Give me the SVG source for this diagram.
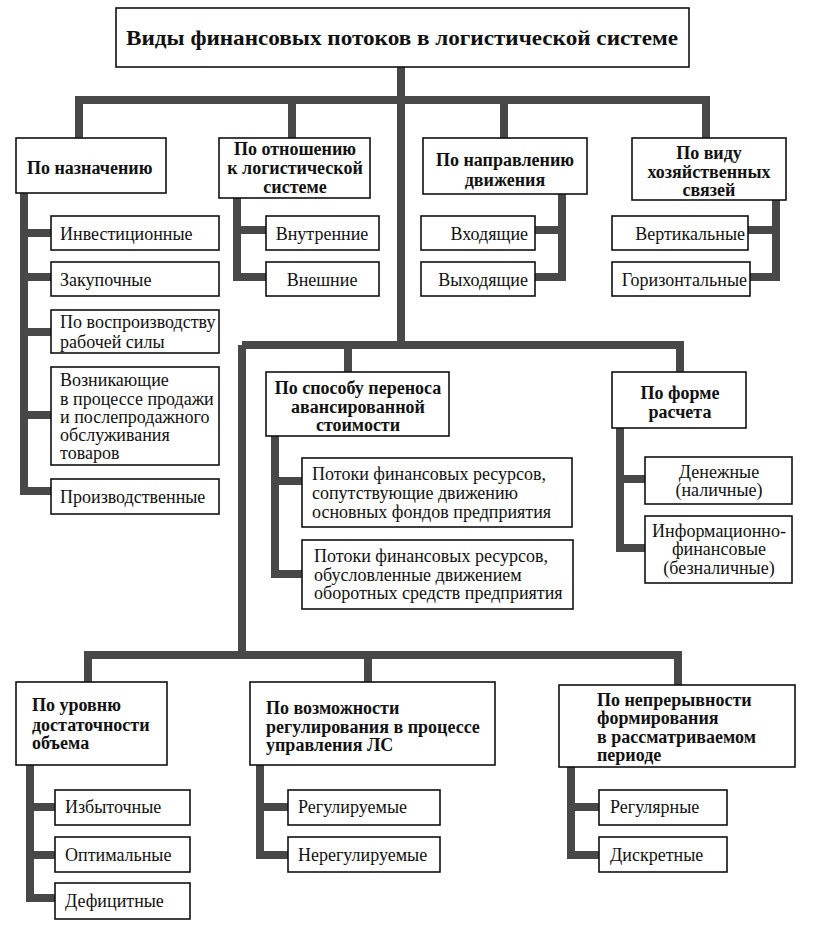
<svg xmlns="http://www.w3.org/2000/svg" width="813" height="928" viewBox="0 0 813 928">
<style>
.box{fill:#fff;stroke:#111;stroke-width:1.6}
.con{fill:none;stroke:#484848;stroke-width:8;stroke-linejoin:miter;stroke-linecap:butt}
text{font-family:'Liberation Serif','Times New Roman','DejaVu Serif',serif;font-size:18px;fill:#111}
.b{font-weight:bold}
.c{text-anchor:middle}
.e{text-anchor:end}
.t{font-size:22px;font-weight:bold}
</style>
<rect width="813" height="928" fill="#fff"/>
<g id="connectors">
<path class="con" d="M401,67 V345"/>
<path class="con" d="M79,138 V100 H706 V138 M292,100 V138 M504,100 V138"/>
<path class="con" d="M24,193 V491 H51 M24,233 H51 M24,277 H51 M24,332 H51 M24,415 H51"/>
<path class="con" d="M237,198 V277 H266 M237,230 H266"/>
<path class="con" d="M562,194 V277 H535 M562,230 H535"/>
<path class="con" d="M776,200 V277 H750 M776,230 H748"/>
<path class="con" d="M348,372 V345 H680 V372 M242,345 H348 M242,345 V655"/>
<path class="con" d="M88,682 V655 H678 V685 M368,655 V682"/>
<path class="con" d="M275,436 V574 H302 M275,481 H302"/>
<path class="con" d="M620,428 V548 H645 M620,479 H645"/>
<path class="con" d="M30,765 V898 H55 M30,807 H55 M30,855 H55"/>
<path class="con" d="M260,765 V855 H288 M260,807 H288"/>
<path class="con" d="M571,767 V855 H599 M571,807 H599"/>
</g>
<g id="title">
<rect class="box" x="116" y="8" width="573" height="59"/>
<text class="t c" x="402" y="45" textLength="552" lengthAdjust="spacingAndGlyphs">Виды финансовых потоков в логистической системе</text>
</g>
<g id="n1">
<rect class="box" x="16" y="138" width="150" height="55"/>
<text class="b" x="27" y="174">По назначению</text>
</g>
<g id="n2">
<rect class="box" x="219" y="138" width="151" height="60"/>
<text class="b c" x="295" y="155">По отношению</text>
<text class="b c" x="295" y="174">к логистической</text>
<text class="b c" x="295" y="193">системе</text>
</g>
<g id="n3">
<rect class="box" x="423" y="138" width="164" height="56"/>
<text class="b c" x="505" y="166">По направлению</text>
<text class="b c" x="505" y="186">движения</text>
</g>
<g id="n4">
<rect class="box" x="632" y="138" width="154" height="62"/>
<text class="b c" x="709" y="159">По виду</text>
<text class="b c" x="709" y="178">хозяйственных</text>
<text class="b c" x="709" y="196">связей</text>
</g>
<g id="n1a"><rect class="box" x="51" y="216" width="168" height="34"/><text x="60" y="240">Инвестиционные</text></g>
<g id="n1b"><rect class="box" x="51" y="262" width="168" height="34"/><text x="60" y="286">Закупочные</text></g>
<g id="n1c"><rect class="box" x="51" y="310" width="168" height="43"/><text x="60" y="328">По воспроизводству</text><text x="60" y="348">рабочей силы</text></g>
<g id="n1d"><rect class="box" x="51" y="367" width="168" height="98"/>
<text x="60" y="386">Возникающие</text>
<text x="60" y="405">в процессе продажи</text>
<text x="60" y="423">и послепродажного</text>
<text x="60" y="441">обслуживания</text>
<text x="60" y="459">товаров</text></g>
<g id="n1e"><rect class="box" x="51" y="479" width="168" height="35"/><text x="60" y="503">Производственные</text></g>
<g id="n2a"><rect class="box" x="266" y="216" width="113" height="34"/><text class="c" x="322" y="240">Внутренние</text></g>
<g id="n2b"><rect class="box" x="266" y="262" width="113" height="34"/><text class="c" x="322" y="286">Внешние</text></g>
<g id="n3a"><rect class="box" x="421" y="216" width="114" height="34"/><text class="e" x="528" y="240">Входящие</text></g>
<g id="n3b"><rect class="box" x="421" y="262" width="114" height="34"/><text class="e" x="528" y="286">Выходящие</text></g>
<g id="n4a"><rect class="box" x="612" y="216" width="136" height="34"/><text class="e" x="745" y="240">Вертикальные</text></g>
<g id="n4b"><rect class="box" x="612" y="262" width="138" height="34"/><text class="e" x="747" y="286">Горизонтальные</text></g>
<g id="n5">
<rect class="box" x="266" y="372" width="183" height="64"/>
<text class="b c" x="358" y="394">По способу переноса</text>
<text class="b c" x="358" y="413">авансированной</text>
<text class="b c" x="358" y="431">стоимости</text>
</g>
<g id="n5a"><rect class="box" x="302" y="458" width="270" height="69"/>
<text x="312" y="480">Потоки финансовых ресурсов,</text>
<text x="312" y="499">сопутствующие движению</text>
<text x="312" y="518">основных фондов предприятия</text></g>
<g id="n5b"><rect class="box" x="302" y="540" width="271" height="69"/>
<text x="314" y="562">Потоки финансовых ресурсов,</text>
<text x="314" y="581">обусловленные движением</text>
<text x="314" y="599">оборотных средств предприятия</text></g>
<g id="n6">
<rect class="box" x="612" y="372" width="134" height="56"/>
<text class="b c" x="680" y="399">По форме</text>
<text class="b c" x="680" y="418">расчета</text>
</g>
<g id="n6a"><rect class="box" x="645" y="457" width="147" height="47"/>
<text class="c" x="719" y="478">Денежные</text>
<text class="c" x="719" y="496">(наличные)</text></g>
<g id="n6b"><rect class="box" x="645" y="516" width="147" height="67"/>
<text class="c" x="719" y="537">Информационно-</text>
<text class="c" x="719" y="555">финансовые</text>
<text class="c" x="719" y="574">(безналичные)</text></g>
<g id="n7">
<rect class="box" x="16" y="682" width="151" height="83"/>
<text class="b" x="32" y="711">По уровню</text>
<text class="b" x="32" y="731">достаточности</text>
<text class="b" x="32" y="749">объема</text>
</g>
<g id="n8">
<rect class="box" x="250" y="682" width="245" height="83"/>
<text class="b" x="266" y="714">По возможности</text>
<text class="b" x="266" y="733">регулирования в процессе</text>
<text class="b" x="266" y="751">управления ЛС</text>
</g>
<g id="n9">
<rect class="box" x="559" y="685" width="236" height="82"/>
<text class="b" x="597" y="706">По непрерывности</text>
<text class="b" x="597" y="724">формирования</text>
<text class="b" x="597" y="743">в рассматриваемом</text>
<text class="b" x="597" y="761">периоде</text>
</g>
<g id="n7a"><rect class="box" x="55" y="790" width="135" height="35"/><text x="65" y="813">Избыточные</text></g>
<g id="n7b"><rect class="box" x="55" y="837" width="135" height="35"/><text x="65" y="861">Оптимальные</text></g>
<g id="n7c"><rect class="box" x="55" y="883" width="135" height="36"/><text x="65" y="907">Дефицитные</text></g>
<g id="n8a"><rect class="box" x="288" y="790" width="152" height="35"/><text x="298" y="813">Регулируемые</text></g>
<g id="n8b"><rect class="box" x="288" y="837" width="152" height="35"/><text x="298" y="861">Нерегулируемые</text></g>
<g id="n9a"><rect class="box" x="599" y="790" width="128" height="35"/><text x="610" y="813">Регулярные</text></g>
<g id="n9b"><rect class="box" x="599" y="837" width="128" height="35"/><text x="610" y="861">Дискретные</text></g>
</svg>
